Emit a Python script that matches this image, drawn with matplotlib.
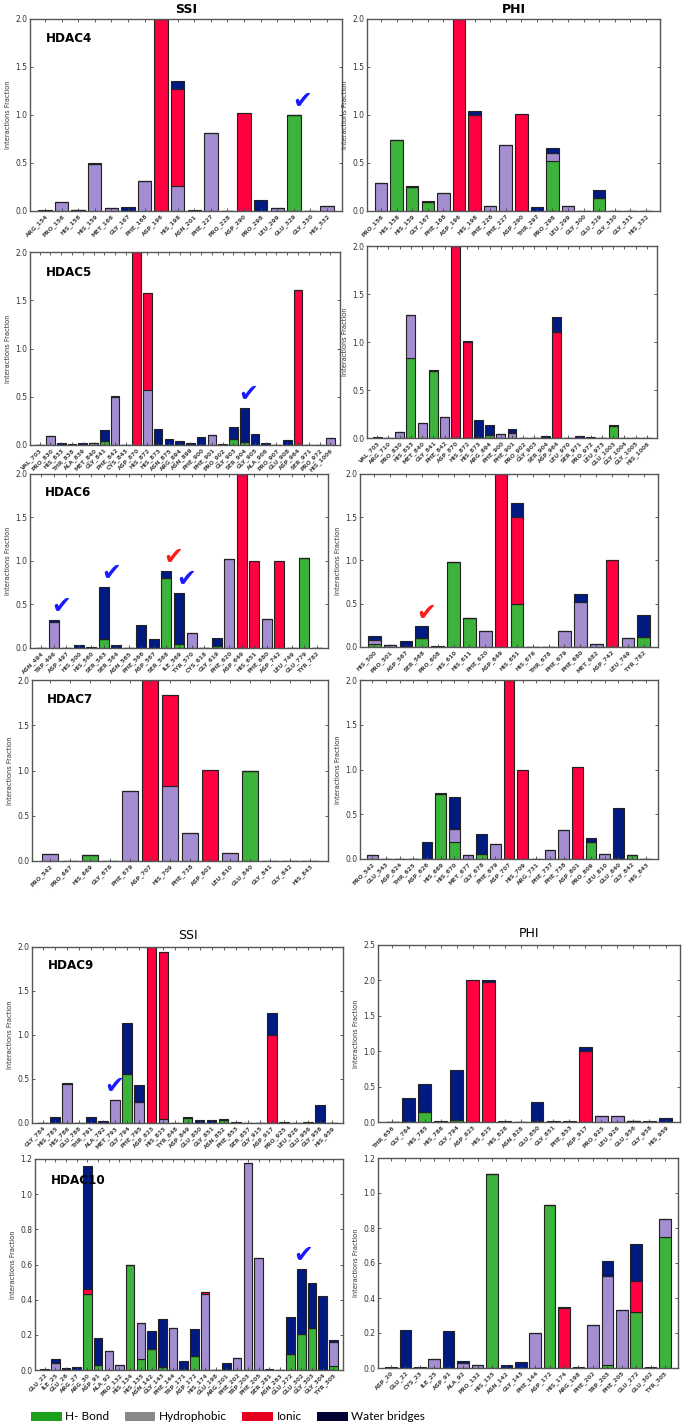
import matplotlib
matplotlib.use("Agg")
import matplotlib.pyplot as plt
from matplotlib.patches import Patch
import numpy as np

# ---------------- DATA ----------------
h4s_res = ["ARG_154","PRO_156","HIS_158","HIS_159","MET_166","GLY_167","PHE_168","ASP_196","HIS_198","ASN_201","PHE_227","PRO_228","ASP_290","PRO_298","LEU_299","GLU_329","GLY_330","HIS_332"]
h4s_hb = [0,0,0.01,0,0,0,0,0,0,0,0,0,0,0,0,1.0,0,0]
h4s_hy = [0,0.09,0,0.49,0.03,0,0.31,0,0.26,0,0.81,0,0,0,0.03,0,0,0.05]
h4s_io = [0,0,0,0,0,0,0,2.0,1.01,0,0,0,1.02,0,0,0,0,0]
h4s_wb = [0.01,0,0,0.01,0,0.04,0,0,0.08,0.01,0,0,0,0.11,0,0,0.005,0]

h4p_res = ["PRO_156","HIS_158","HIS_159","GLY_167","PHE_168","ASP_196","HIS_198","PHE_226","PHE_227","ASP_290","THR_297","PRO_298","LEU_299","GLY_300","GLU_329","GLY_330","GLY_331","HIS_332"]
h4p_hb = [0,0.74,0.25,0.09,0,0,0,0,0,0,0,0.52,0,0,0.14,0,0,0]
h4p_hy = [0.29,0,0,0,0.19,0,0,0.05,0.69,0,0,0.08,0.05,0,0,0,0,0]
h4p_io = [0,0,0,0,0,2.0,1.0,0,0,1.01,0,0,0,0,0,0,0,0]
h4p_wb = [0,0,0.01,0.01,0,0,0.04,0,0,0,0.04,0.06,0,0,0.08,0,0,0.003]

h5s_res = ["VAL_703","PRO_830","HIS_833","THR_838","ALA_839","MET_840","GLY_841","PHE_842","CYS_843","ASP_870","HIS_872","HIS_873","ASN_875","ARG_894","ASN_899","PHE_900","PHE_901","PRO_902","GLY_903","SER_904","GLY_905","ALA_906","PRO_907","GLU_908","ASP_964","SER_971","PRO_972","HIS_1006"]
h5s_hb = [0,0,0,0,0,0,0.04,0,0,0,0,0,0,0,0,0,0,0,0.06,0.03,0,0,0,0,0,0,0,0]
h5s_hy = [0,0.09,0,0,0,0.02,0,0.50,0,0,0.57,0,0,0,0,0,0.10,0,0,0,0,0,0,0,0,0,0,0.07]
h5s_io = [0,0,0,0,0,0,0,0,0,2.0,1.0,0,0,0,0,0,0,0,0,0,0,0,0,0,1.61,0,0,0]
h5s_wb = [0,0,0.02,0.01,0.02,0,0.12,0.01,0,0,0,0.17,0.06,0.04,0.02,0.08,0,0.01,0.13,0.35,0.11,0.02,0,0.05,0,0.005,0.005,0]

h5p_res = ["VAL_703","ARG_710","PRO_830","HIS_833","MET_840","GLY_841","PHE_842","ASP_870","HIS_872","HIS_873","ARG_894","PHE_900","PHE_901","PRO_902","GLY_903","SER_904","ASP_964","LEU_970","SER_971","PRO_972","LEU_973","GLU_1003","GLY_1004","GLY_1005","HIS_1006"]
h5p_hb = [0,0,0,0.83,0,0.70,0,0,0,0,0.03,0,0,0,0,0,0,0,0,0,0,0.12,0,0,0]
h5p_hy = [0,0,0.06,0.45,0.16,0,0.22,0,0,0,0,0.04,0.05,0,0,0,0,0,0,0,0,0,0,0,0]
h5p_io = [0,0,0,0,0,0,0,2.0,1.0,0,0,0,0,0,0,0,1.10,0,0,0,0,0,0,0,0]
h5p_wb = [0.015,0,0,0,0,0.01,0,0,0.01,0.19,0.11,0,0.04,0,0,0.02,0.16,0.003,0.02,0.01,0.003,0.02,0,0.005,0.003]

h6s_res = ["ASN_494","TRP_496","ASP_497","HIS_500","HIS_560","SER_563","SER_564","ASN_565","PHE_566","ASP_567","SER_568","ILE_569","TYR_570","CYS_618","GLY_619","PHE_620","ASP_649","HIS_651","PHE_680","ASP_742","LEU_749","GLU_779","TYR_782"]
h6s_hb = [0,0,0,0,0,0.10,0,0,0,0,0.81,0.05,0,0,0.02,0,0,0,0,0,0,1.04,0]
h6s_hy = [0,0.30,0,0,0,0,0,0,0,0,0,0,0.17,0,0,1.02,0,0,0.33,0,0,0,0]
h6s_io = [0,0,0,0,0,0,0,0,0,0,0,0,0,0,0,0,2.0,1.0,0,1.0,0,0,0]
h6s_wb = [0,0.02,0,0.04,0.01,0.60,0.03,0,0.27,0.10,0.08,0.58,0,0,0.10,0,0,0,0,0,0,0,0.003]

h6p_res = ["HIS_500","PRO_501","ASP_567","SER_568","PRO_608","HIS_610","HIS_611","PHE_620","ASP_649","HIS_651","HIS_676","THR_678","PHE_679","PHE_680","MET_682","ASP_742","LEU_749","TYR_782"]
h6p_hb = [0.03,0,0,0.10,0,0.98,0.34,0,0,0.50,0,0,0,0,0,0,0,0.12]
h6p_hy = [0.05,0.02,0,0,0,0,0,0.18,0,0,0,0,0.19,0.52,0.03,0,0.10,0]
h6p_io = [0,0,0,0,0,0,0,0,2.0,1.0,0,0,0,0,0,1.0,0,0]
h6p_wb = [0.05,0,0.07,0.14,0.01,0,0,0,0,0.17,0,0,0,0.09,0,0,0,0.25]

h7s_res = ["PRO_542","PRO_667","HIS_669","GLY_678","PHE_679","ASP_707","HIS_709","PHE_738","ASP_801","LEU_810","GLU_840","GLY_841","GLY_842","HIS_843"]
h7s_hb = [0,0,0.07,0,0,0,0,0,0,0,1.0,0,0,0]
h7s_hy = [0.08,0,0,0,0.77,0,0.83,0.31,0,0.09,0,0,0,0]
h7s_io = [0,0,0,0,0,2.0,1.0,0,1.01,0,0,0,0,0]
h7s_wb = [0,0,0,0,0,0,0,0,0,0,0,0,0,0]

h7p_res = ["PRO_542","GLU_543","ASP_624","THR_625","ASP_626","HIS_669","HIS_670","MET_677","GLY_678","PHE_679","ASP_707","HIS_709","ARG_731","PHE_737","PHE_738","ASP_801","PRO_809","LEU_810","GLU_840","GLY_842","HIS_843"]
h7p_hb = [0,0,0,0,0,0.73,0.19,0,0.06,0,0,0,0,0,0,0,0.19,0,0,0.04,0]
h7p_hy = [0.05,0,0,0,0,0,0.14,0.05,0,0.17,0,0,0,0.10,0.32,0,0,0.06,0,0,0]
h7p_io = [0,0,0,0,0,0,0,0,0,0,2.0,1.0,0,0,0,1.03,0,0,0,0,0]
h7p_wb = [0,0,0,0,0.19,0.01,0.36,0,0.22,0,0,0,0.003,0,0,0,0.04,0,0.57,0,0]

h9s_res = ["GLY_784","HIS_785","HIS_786","GLU_788","THR_791","ALA_792","MET_793","GLY_794","PHE_795","ASP_823","HIS_825","TYR_848","ASP_849","GLU_850","GLY_851","ASN_852","PHE_853","SER_857","GLY_915","ASP_917","PRO_925","LEU_926","GLU_956","GLY_958","HIS_959"]
h9s_hb = [0,0,0,0,0,0,0,0.56,0,0,0,0,0.06,0,0,0.03,0,0,0,0,0,0,0,0,0]
h9s_hy = [0,0,0.44,0,0,0,0.26,0,0.24,0,0.04,0,0,0,0,0,0,0,0,0,0,0,0,0,0]
h9s_io = [0,0,0,0,0,0,0,0,0,2.0,1.90,0,0,0,0,0,0,0,0,1.0,0,0,0,0,0]
h9s_wb = [0,0.07,0.01,0.003,0.07,0.02,0,0.58,0.19,0,0,0,0.01,0.03,0.03,0.01,0.01,0,0,0.25,0.01,0,0.01,0.21,0]

h9p_res = ["THR_656","GLY_784","HIS_785","HIS_786","GLY_794","ASP_823","HIS_825","HIS_826","ASN_828","GLU_850","GLY_851","PHE_853","ASP_917","PRO_925","LEU_926","GLU_956","GLY_958","HIS_959"]
h9p_hb = [0,0,0.14,0,0.03,0,0,0,0,0.02,0,0,0,0,0,0.02,0,0]
h9p_hy = [0,0,0,0,0,0,0,0,0,0,0,0,0,0.08,0.08,0,0,0]
h9p_io = [0,0,0,0,0,2.0,1.98,0,0,0,0,0,1.0,0,0,0,0,0]
h9p_wb = [0,0.34,0.40,0.02,0.71,0,0.03,0.01,0.005,0.26,0.01,0.01,0.06,0.01,0,0,0.02,0.05]

h10s_res = ["GLU_22","ILE_25","GLU_26","ARG_27","ARG_30","ASP_91","ALA_92","PRO_132","HIS_134","HIS_135","ASN_142","GLY_143","PHE_144","TRP_171","ASP_172","HIS_174","GLU_198","ARG_201","PHE_202","TRP_203","PHE_205","SER_281","ASN_283","GLU_272","GLU_302","GLY_303","GLY_304","TYR_305"]
h10s_hb = [0,0,0,0,0.43,0.03,0,0,0.60,0.06,0.12,0.015,0,0,0.08,0,0,0,0,0,0,0,0,0.09,0.205,0.24,0,0.02]
h10s_hy = [0,0.04,0,0,0,0,0.11,0.03,0,0.21,0,0,0.24,0,0,0.43,0,0,0.07,1.175,0.635,0,0,0,0,0,0,0.14]
h10s_io = [0,0,0,0,0.03,0,0,0,0,0,0,0,0,0,0,0.015,0,0,0,0,0,0,0,0,0,0,0,0]
h10s_wb = [0.003,0.02,0.01,0.015,0.70,0.15,0,0,0,0,0.10,0.275,0,0.05,0.155,0,0,0.04,0,0.005,0,0.005,0,0.21,0.37,0.255,0.42,0.01]

h10p_res = ["ASP_20","GLU_22","CYS_23","ILE_25","ASP_91","ALA_92","PRO_132","HIS_135","ASN_142","GLY_143","PHE_144","ASP_172","HIS_174","ARG_198","PHE_202","TRP_203","PHE_205","GLU_272","GLU_302","TYR_305"]
h10p_hb = [0,0,0,0,0,0,0,1.11,0,0,0,0.93,0,0,0,0.02,0,0.32,0,0.75]
h10p_hy = [0,0,0,0.05,0,0.03,0.015,0,0,0,0.20,0,0,0,0.245,0.505,0.33,0,0,0.10]
h10p_io = [0,0,0,0,0,0,0,0,0,0,0,0,0.345,0,0,0,0,0.18,0,0]
h10p_wb = [0.005,0.22,0.005,0,0.21,0.01,0,0,0.015,0.035,0,0,0.005,0.003,0,0.085,0,0.21,0.005,0]

panel_names = ["HDAC4", "", "HDAC5", "", "HDAC6", "", "HDAC7", "", "HDAC9", "", "HDAC10", ""]
legend_labels = ["H- Bond", "Hydrophobic", "Ionic", "Water bridges"]

# check marks: (residue, colour, horizontal shift in bar units)
checks = {
    0: [("GLU_329", "blue", 0.5)],
    2: [("SER_904", "blue", 0.4)],
    4: [("TRP_496", "blue", 0.6), ("SER_563", "blue", 0.6), ("SER_568", "red", 0.5), ("ILE_569", "blue", 0.6)],
    5: [("SER_568", "red", 0.3)],
    8: [("MET_793", "blue", -0.1)],
    10: [("GLU_302", "blue", 0.2)],
}

# ---------------- STYLE ----------------
C_HB = "#3cb43c"
C_HY = "#a48dd0"
C_IO = "#ff0040"
C_WB = "#001a82"
CHECK_COL = {"blue": "#1a1aff", "red": "#ff1a1a"}

panels = [
    (h4s_res, h4s_hb, h4s_hy, h4s_io, h4s_wb),
    (h4p_res, h4p_hb, h4p_hy, h4p_io, h4p_wb),
    (h5s_res, h5s_hb, h5s_hy, h5s_io, h5s_wb),
    (h5p_res, h5p_hb, h5p_hy, h5p_io, h5p_wb),
    (h6s_res, h6s_hb, h6s_hy, h6s_io, h6s_wb),
    (h6p_res, h6p_hb, h6p_hy, h6p_io, h6p_wb),
    (h7s_res, h7s_hb, h7s_hy, h7s_io, h7s_wb),
    (h7p_res, h7p_hb, h7p_hy, h7p_io, h7p_wb),
    (h9s_res, h9s_hb, h9s_hy, h9s_io, h9s_wb),
    (h9p_res, h9p_hb, h9p_hy, h9p_io, h9p_wb),
    (h10s_res, h10s_hb, h10s_hy, h10s_io, h10s_wb),
    (h10p_res, h10p_hb, h10p_hy, h10p_io, h10p_wb),
]

# axes boxes in pixels: left, top, right, bottom
boxes = [
    (30, 19, 342, 211), (367, 19, 660, 211),
    (30, 252, 340, 445), (367, 246, 657, 438),
    (30, 474, 328, 648), (360, 474, 658, 647),
    (32, 680, 328, 861), (360, 680, 658, 859),
    (32, 947, 343, 1123), (378, 945, 680, 1122),
    (35, 1159, 343, 1370), (378, 1158, 678, 1368),
]
ylims = [2.0]*9 + [2.5, 1.2, 1.2]

W, H = 685, 1428
fig = plt.figure(figsize=(W/100, H/100), dpi=100)

for i, (res, hb, hy, io, wb) in enumerate(panels):
    l, t, r, b = boxes[i]
    ax = fig.add_axes([l/W, 1 - b/H, (r-l)/W, (b-t)/H])
    x = np.arange(len(res))
    hb = np.array(hb); hy = np.array(hy); io = np.array(io); wb = np.array(wb)
    kw = dict(width=0.8, edgecolor="#222222", linewidth=0.8)
    ax.bar(x, hb, color=C_HB, **kw)
    ax.bar(x, hy, bottom=hb, color=C_HY, **kw)
    ax.bar(x, io, bottom=hb+hy, color=C_IO, **kw)
    ax.bar(x, wb, bottom=hb+hy+io, color=C_WB, **kw)
    ax.set_xlim(-0.9, len(res) - 0.1)
    ymax = ylims[i]
    ax.set_ylim(0, ymax)
    if ymax == 1.2:
        ax.set_yticks(np.arange(0, 1.21, 0.2))
        ax.set_yticklabels([f"{v:.1f}" for v in np.arange(0, 1.21, 0.2)])
    else:
        ax.set_yticks(np.arange(0, ymax + 0.01, 0.5))
    ax.set_xticks(x)
    ax.set_xticklabels(res, rotation=45, ha="right", rotation_mode="anchor",
                       fontsize=4.2, color="#444444", fontweight="bold")
    ax.tick_params(axis="y", labelsize=5.5, labelcolor="#333333")
    ax.tick_params(direction="in", top=True, right=True, length=2.5, width=0.6,
                   color="#444444", pad=2)
    ax.tick_params(axis="x", pad=1.5)
    for s in ax.spines.values():
        s.set_color("#555555")
        s.set_linewidth(1.0)
    ax.set_ylabel("Interactions Fraction", fontsize=4.8, color="#333333", labelpad=3)
    if panel_names[i]:
        ax.text(0.05, 0.93, panel_names[i], transform=ax.transAxes, fontsize=9.5,
                fontweight="bold", va="top", ha="left", fontstretch="condensed")
    if i == 0:
        ax.set_title("SSI", fontsize=9, fontweight="bold", pad=4)
    if i == 1:
        ax.set_title("PHI", fontsize=9, fontweight="bold", pad=4)
    if i == 8:
        ax.set_title("SSI", fontsize=9, pad=6)
    if i == 9:
        ax.set_title("PHI", fontsize=9, pad=6)
    tot = hb + hy + io + wb
    for (rn, col, dx) in checks.get(i, []):
        k = res.index(rn)
        ax.text(k + dx, tot[k] + ymax*0.01, "\u2714", color=CHECK_COL[col],
                fontsize=17, ha="center", va="bottom")

handles = [Patch(facecolor="#1aa01a"), Patch(facecolor="#888888"),
           Patch(facecolor="#e60020"), Patch(facecolor="#000033")]
fig.legend(handles, legend_labels, loc="center", bbox_to_anchor=(228/W, 1 - 1417/H),
           ncol=4, frameon=False, handlelength=2.6, handleheight=0.75,
           columnspacing=1.3, handletextpad=0.3, prop={"family": "Lato", "size": 8.5})

fig.savefig("out.png", dpi=100)
